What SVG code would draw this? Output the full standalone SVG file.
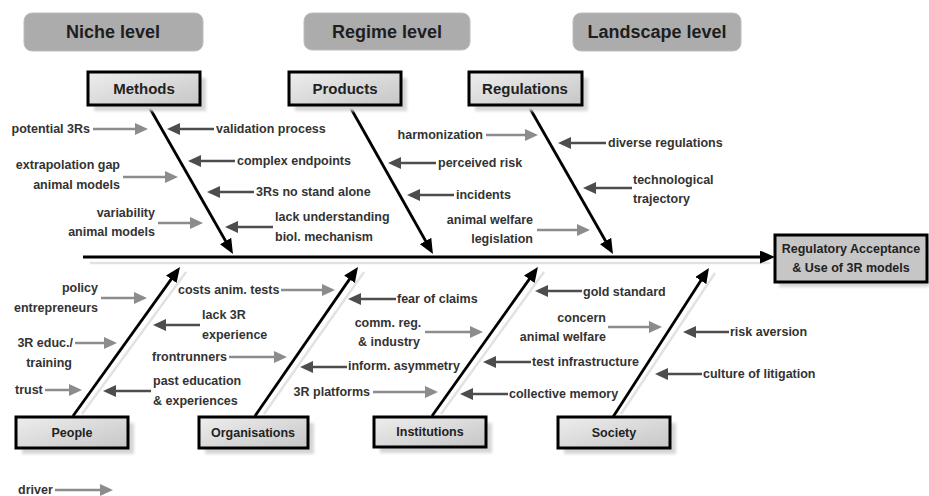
<svg xmlns="http://www.w3.org/2000/svg" width="929" height="496" viewBox="0 0 929 496">
  <defs>
    <style>
      text { font-family: "Liberation Sans", Arial, sans-serif; font-weight: bold; }
      .lvl-box { fill: #acacac; stroke: #bebebe; stroke-width: 1; }
      .lvl { font-size: 18px; fill: #1e1e1e; text-anchor: middle; }
      .cat-box { fill: url(#boxFill); stroke: #000; stroke-width: 3; }
      .shadow { fill: #d6d6d6; filter: url(#soft); }
      .cat { font-size: 15px; fill: #222; text-anchor: middle; }
      .cat-sm { font-size: 12.5px; fill: #222; text-anchor: middle; }
      .lbl { font-size: 12.5px; fill: #333; }
      .end { text-anchor: end; }
      .mid { text-anchor: middle; }
      .bone { stroke: #000; stroke-width: 2.8; fill: none; marker-end: url(#boneHead); }
      .bone-sh { stroke: #e2e2e2; stroke-width: 2.5; fill: none; }
      .drv { stroke: #8c8c8c; stroke-width: 2.5; fill: none; marker-end: url(#drvHead); }
      .bar { stroke: #4d4d4d; stroke-width: 2.5; fill: none; marker-end: url(#barHead); }
    </style>
    <linearGradient id="boxFill" x1="0" y1="0" x2="1" y2="1">
      <stop offset="0" stop-color="#eeeeee"/>
      <stop offset="1" stop-color="#c6c6c6"/>
    </linearGradient>
    <filter id="soft" x="-10%" y="-20%" width="120%" height="140%">
      <feGaussianBlur stdDeviation="1.5"/>
    </filter>
    <marker id="boneHead" markerUnits="userSpaceOnUse" markerWidth="15" markerHeight="13" refX="9" refY="6.5" orient="auto">
      <path d="M0,0 L15,6.5 L0,13 Z" fill="#000"/>
    </marker>
    <marker id="drvHead" markerUnits="userSpaceOnUse" markerWidth="13" markerHeight="12" refX="6" refY="6" orient="auto">
      <path d="M0,0 L13,6 L0,12 Z" fill="#8c8c8c"/>
    </marker>
    <marker id="barHead" markerUnits="userSpaceOnUse" markerWidth="13" markerHeight="12" refX="6" refY="6" orient="auto">
      <path d="M0,0 L13,6 L0,12 Z" fill="#4d4d4d"/>
    </marker>
  </defs>

  <rect width="929" height="496" fill="#fff"/>

  <!-- level headers -->
  <g id="level-niche">
    <rect class="lvl-box" x="24" y="13" width="179" height="38" rx="8"/>
    <text class="lvl" x="113" y="38">Niche level</text>
  </g>
  <g id="level-regime">
    <rect class="lvl-box" x="304" y="13" width="166" height="37" rx="8"/>
    <text class="lvl" x="387" y="38">Regime level</text>
  </g>
  <g id="level-landscape">
    <rect class="lvl-box" x="573" y="13" width="168" height="38" rx="8"/>
    <text class="lvl" x="657" y="38">Landscape level</text>
  </g>

  <!-- connectors: spine, bones and factor arrows -->
  <g id="connectors">
    <!-- shadows under spine and lower bones -->
    <line class="bone-sh" x1="90" y1="263" x2="770" y2="263"/>
    <line class="bone-sh" x1="82" y1="414" x2="186" y2="272"/>
    <line class="bone-sh" x1="264" y1="414" x2="364" y2="272"/>
    <line class="bone-sh" x1="441" y1="414" x2="544" y2="272"/>
    <line class="bone-sh" x1="621" y1="414" x2="715" y2="273"/>

    <!-- spine -->
    <line class="bone" x1="83" y1="257" x2="769" y2="257"/>
    <!-- upper bones -->
    <line class="bone" x1="148" y1="105" x2="230" y2="248.8"/>
    <line class="bone" x1="349" y1="105" x2="430" y2="248.8"/>
    <line class="bone" x1="528" y1="105" x2="610" y2="248.8"/>
    <!-- lower bones -->
    <line class="bone" x1="73" y1="416" x2="176.5" y2="271.9"/>
    <line class="bone" x1="255" y1="416" x2="354.6" y2="271.9"/>
    <line class="bone" x1="432" y1="416" x2="534.5" y2="271.9"/>
    <line class="bone" x1="613" y1="417" x2="705.7" y2="273"/>

    <!-- Methods -->
    <line class="drv" x1="93" y1="129" x2="141" y2="129"/>
    <line class="bar" x1="214" y1="129" x2="174" y2="129"/>
    <line class="bar" x1="235" y1="161" x2="195" y2="161"/>
    <line class="drv" x1="123" y1="177" x2="171" y2="177"/>
    <line class="bar" x1="254" y1="192" x2="214" y2="192"/>
    <line class="drv" x1="158" y1="223" x2="196" y2="223"/>
    <line class="bar" x1="273" y1="227" x2="232" y2="227"/>
    <!-- Products -->
    <line class="drv" x1="486" y1="135" x2="531" y2="135"/>
    <line class="bar" x1="436" y1="163" x2="395" y2="163"/>
    <line class="bar" x1="454" y1="195" x2="414" y2="195"/>
    <line class="drv" x1="537" y1="230" x2="583" y2="230"/>
    <!-- Regulations -->
    <line class="bar" x1="606" y1="143" x2="565" y2="143"/>
    <line class="bar" x1="632" y1="188" x2="590" y2="188"/>
    <!-- People -->
    <line class="drv" x1="101" y1="298" x2="140" y2="298"/>
    <line class="bar" x1="200" y1="325" x2="160" y2="325"/>
    <line class="drv" x1="75" y1="343" x2="110" y2="343"/>
    <line class="drv" x1="45" y1="390" x2="75" y2="390"/>
    <line class="bar" x1="151" y1="391" x2="110" y2="391"/>
    <!-- Organisations -->
    <line class="drv" x1="281" y1="290" x2="328" y2="290"/>
    <line class="drv" x1="229" y1="357" x2="280" y2="357"/>
    <line class="bar" x1="396" y1="299" x2="355" y2="299"/>
    <line class="bar" x1="347" y1="367" x2="307" y2="367"/>
    <line class="drv" x1="373" y1="392" x2="431" y2="392"/>
    <!-- Institutions -->
    <line class="drv" x1="425" y1="332" x2="476" y2="332"/>
    <line class="bar" x1="582" y1="291" x2="542" y2="291"/>
    <line class="bar" x1="531" y1="362" x2="490" y2="362"/>
    <line class="bar" x1="508" y1="394" x2="467" y2="394"/>
    <!-- Society -->
    <line class="drv" x1="608" y1="327" x2="655" y2="327"/>
    <line class="bar" x1="729" y1="332" x2="690" y2="332"/>
    <line class="bar" x1="702" y1="374" x2="662" y2="374"/>
    <!-- legend -->
    <line class="drv" x1="55" y1="490" x2="106" y2="490"/>
  </g>

  <!-- category boxes -->
  <g id="methods">
    <rect class="shadow" x="94" y="78" width="112" height="33"/>
    <rect class="cat-box" x="88" y="72" width="112" height="33"/>
    <text class="cat" x="144" y="94">Methods</text>
  </g>
  <g id="products">
    <rect class="shadow" x="295" y="78" width="112" height="33"/>
    <rect class="cat-box" x="289" y="72" width="112" height="33"/>
    <text class="cat" x="345" y="94">Products</text>
  </g>
  <g id="regulations">
    <rect class="shadow" x="475" y="78" width="113" height="33"/>
    <rect class="cat-box" x="469" y="72" width="113" height="33"/>
    <text class="cat" x="525" y="94">Regulations</text>
  </g>
  <g id="people">
    <rect class="shadow" x="22" y="423" width="112" height="31"/>
    <rect class="cat-box" x="16" y="417" width="112" height="31"/>
    <text class="cat-sm" x="72" y="437">People</text>
  </g>
  <g id="organisations">
    <rect class="shadow" x="205" y="423" width="109" height="31"/>
    <rect class="cat-box" x="199" y="417" width="109" height="31"/>
    <text class="cat-sm" x="253" y="437">Organisations</text>
  </g>
  <g id="institutions">
    <rect class="shadow" x="380" y="423" width="112" height="30"/>
    <rect class="cat-box" x="374" y="417" width="112" height="30"/>
    <text class="cat-sm" x="430" y="436">Institutions</text>
  </g>
  <g id="society">
    <rect class="shadow" x="564" y="423" width="112" height="31"/>
    <rect class="cat-box" x="558" y="417" width="112" height="31"/>
    <text class="cat-sm" x="614" y="437">Society</text>
  </g>
  <g id="outcome">
    <rect class="shadow" x="779" y="240" width="150" height="47"/>
    <rect x="775" y="235" width="152" height="47" fill="#c6c6c6" stroke="#000" stroke-width="3"/>
    <text class="cat-sm" x="851" y="253">Regulatory Acceptance</text>
    <text class="cat-sm" x="851" y="272">&amp; Use of 3R models</text>
  </g>

  <!-- factor labels -->
  <g id="factors" class="lbl">
    <text class="lbl end" x="90" y="133">potential 3Rs</text>
    <text class="lbl" x="216" y="133">validation process</text>
    <text class="lbl" x="237" y="165">complex endpoints</text>
    <text class="lbl end" x="120" y="169">extrapolation gap</text>
    <text class="lbl end" x="120" y="189">animal models</text>
    <text class="lbl" x="256" y="196">3Rs no stand alone</text>
    <text class="lbl end" x="155" y="217">variability</text>
    <text class="lbl end" x="155" y="236">animal models</text>
    <text class="lbl" x="275" y="221">lack understanding</text>
    <text class="lbl" x="275" y="241">biol. mechanism</text>

    <text class="lbl end" x="483" y="139">harmonization</text>
    <text class="lbl" x="438" y="167">perceived risk</text>
    <text class="lbl" x="456" y="199">incidents</text>
    <text class="lbl end" x="533" y="224">animal welfare</text>
    <text class="lbl end" x="533" y="243">legislation</text>

    <text class="lbl" x="608" y="147">diverse regulations</text>
    <text class="lbl" x="633" y="184">technological</text>
    <text class="lbl" x="633" y="203">trajectory</text>

    <text class="lbl end" x="98" y="292">policy</text>
    <text class="lbl end" x="98" y="312">entrepreneurs</text>
    <text class="lbl" x="178" y="294">costs anim. tests</text>
    <text class="lbl" x="202" y="319">lack 3R</text>
    <text class="lbl" x="202" y="339">experience</text>
    <text class="lbl end" x="73" y="347">3R educ./</text>
    <text class="lbl end" x="72" y="367">training</text>
    <text class="lbl" x="152" y="361">frontrunners</text>
    <text class="lbl" x="15" y="394">trust</text>
    <text class="lbl" x="153" y="385">past education</text>
    <text class="lbl" x="153" y="405">&amp; experiences</text>

    <text class="lbl" x="397" y="303">fear of claims</text>
    <text class="lbl mid" x="388" y="327">comm. reg.</text>
    <text class="lbl mid" x="389" y="346">&amp; industry</text>
    <text class="lbl" x="348" y="370">inform. asymmetry</text>
    <text class="lbl end" x="370" y="396">3R platforms</text>

    <text class="lbl" x="583" y="296">gold standard</text>
    <text class="lbl end" x="606" y="322">concern</text>
    <text class="lbl end" x="606" y="341">animal welfare</text>
    <text class="lbl" x="532" y="366">test infrastructure</text>
    <text class="lbl" x="509" y="398">collective memory</text>

    <text class="lbl" x="730" y="336">risk aversion</text>
    <text class="lbl" x="703" y="378">culture of litigation</text>
  </g>

  <!-- legend -->
  <g id="legend">
    <text class="lbl" x="18" y="494">driver</text>
  </g>
</svg>
